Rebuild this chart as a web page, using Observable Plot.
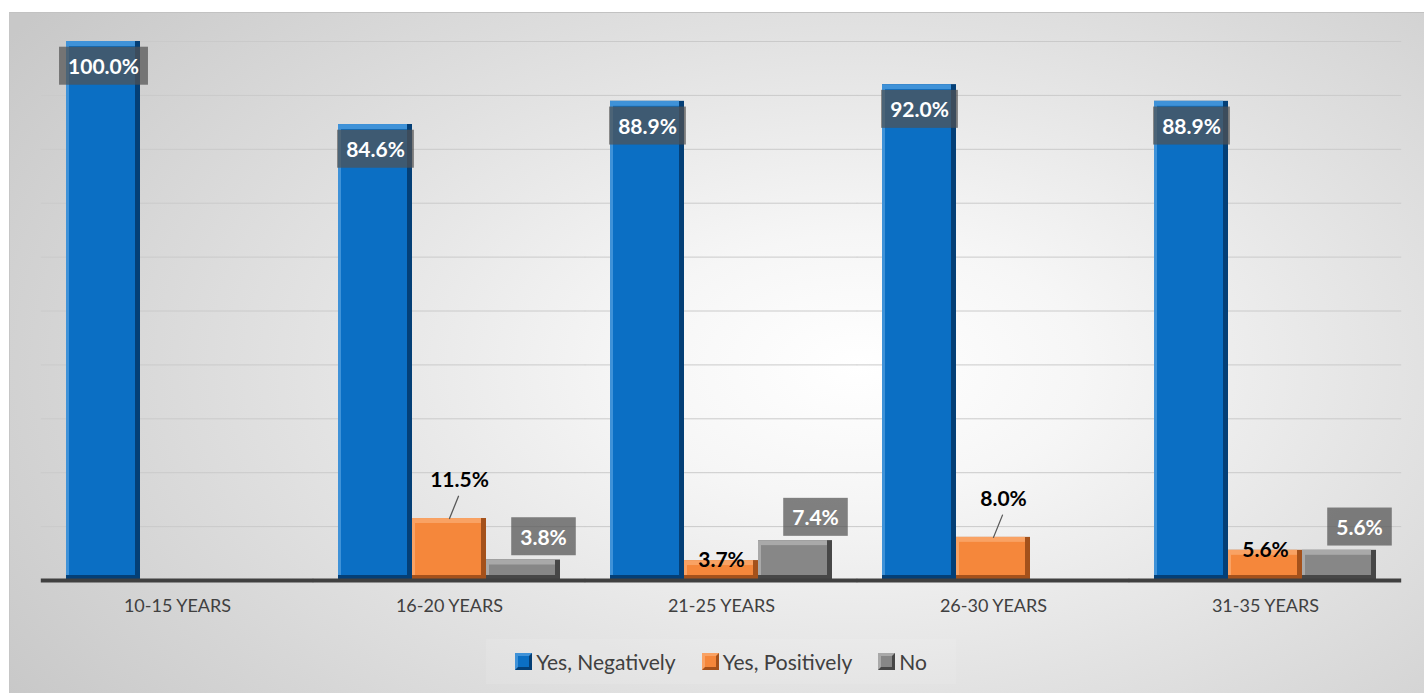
<!DOCTYPE html>
<html><head><meta charset="utf-8">
<script src="https://cdn.jsdelivr.net/npm/d3@7"></script>
<script src="https://cdn.jsdelivr.net/npm/@observablehq/plot@0.6"></script>
<style>
html,body{margin:0;padding:0;background:#fff;}
body{width:1424px;height:693px;position:relative;overflow:hidden;font-family:Lato,"Noto Sans",sans-serif;}
#bg{position:absolute;left:9px;top:12px;width:1415px;height:681px;box-sizing:border-box;
 border-top:1px solid #c2c2c2;border-left:1px solid #c6c6c6;
 background:radial-gradient(ellipse 72% 88% at 60% 52%, #ffffff 0%, #f6f6f6 22%, #e2e2e2 55%, #c8c8c8 100%);}
#chart{position:absolute;left:0;top:0;}
#legend{position:absolute;left:486px;top:639px;width:470px;height:45px;display:flex;align-items:center;justify-content:center;gap:26px;
 font-size:21px;color:#404040;background:rgba(255,255,255,0.1);}
.item{display:flex;align-items:center;gap:4px;}
.sw{width:17px;height:17px;box-sizing:border-box;border:3px solid;}
</style>
</head><body>
<div id="bg"></div>
<div id="chart"></div>
<div id="legend"></div>
<script>
const categories = ["10-15 YEARS", "16-20 YEARS", "21-25 YEARS", "26-30 YEARS", "31-35 YEARS"];
const series = ["Yes, Negatively", "Yes, Positively", "No"];
const negatively = [100.0, 84.6, 88.9, 92.0, 88.9];
const positively = [null, 11.5, 3.7, 8.0, 5.6];
const no = [null, 3.8, 7.4, null, 5.6];
const gridTicks = [10, 20, 30, 40, 50, 60, 70, 80, 90, 100];

const palette = {
  "Yes, Negatively": {face: "#0b6fc4", light: "#3f92d8", dark: "#043f76"},
  "Yes, Positively": {face: "#f5873b", light: "#f9a264", dark: "#a4511b"},
  "No": {face: "#878787", light: "#a9a9a9", dark: "#474747"}
};

const valuesBySeries = [negatively, positively, no];
const rows = categories.flatMap((c, i) =>
  series.map((s, j) => ({category: c, series: s, value: valuesBySeries[j][i]}))
    .filter(d => d.value != null));
const bySeries = s => rows.filter(d => d.series === s);
const fmt = d => d.value.toFixed(1) + "%";

const common = {fx: "category", x: "series", y: "value"};
const barLayers = series.flatMap(s => {
  const data = bySeries(s), p = palette[s];
  return [
    Plot.barY(data, {...common, fill: p.dark}),
    Plot.barY(data, {...common, fill: p.light, insetRight: 5, insetBottom: 5}),
    Plot.barY(data, {...common, fill: p.face, insetTop: 5, insetLeft: 3, insetRight: 5, insetBottom: 5})
  ];
});

const posData = bySeries("Yes, Positively");
const posBig = posData.filter(d => d.value >= 8);
const posSmall = posData.filter(d => d.value < 8);

const plot = Plot.plot({
  width: 1424,
  height: 693,
  marginLeft: 39,
  marginRight: 21,
  marginTop: 41,
  marginBottom: 113,
  style: {background: "transparent", fontFamily: "Lato, 'Noto Sans', sans-serif", overflow: "visible"},
  fx: {domain: categories, paddingInner: 0.175, paddingOuter: 0.0875, label: null},
  x: {domain: series, padding: 0, axis: null},
  y: {domain: [0, 100], axis: null},
  marks: [
    Plot.ruleY(gridTicks, {stroke: "#cacaca", strokeWidth: 1, insetLeft: -24.2, insetRight: -24.2}),
    ...barLayers,
    Plot.ruleY([0], {stroke: "#404040", strokeWidth: 4, insetLeft: -24.2, insetRight: -24.2}),
    Plot.axisFx({anchor: "bottom", tickSize: 0, tickPadding: 19, fontSize: 18, color: "#404040", label: null}),
    Plot.text(bySeries("Yes, Negatively"), {...common, text: fmt, dy: 26, fill: "white", fontWeight: 700, fontSize: 21, ariaLabel: () => "boxlab"}),
    Plot.text(bySeries("No"), {...common, text: fmt, dy: -22, dx: 20, fill: "white", fontWeight: 700, fontSize: 21, ariaLabel: () => "boxlab"}),
    Plot.vector(posBig, {...common, length: 24, rotate: 22, anchor: "start", stroke: "#595959", strokeWidth: 1.3,
      shape: {draw(ctx, l) { ctx.moveTo(0, 0); ctx.lineTo(0, -l); }}}),
    Plot.text(posBig, {...common, text: fmt, dy: -38, dx: 10, fill: "#000", fontWeight: 700, fontSize: 21}),
    Plot.text(posSmall, {...common, text: fmt, dy: 0, fill: "#000", fontWeight: 700, fontSize: 21})
  ]
});
document.getElementById("chart").appendChild(plot);

// label boxes behind white labels
const labelTexts = new Set();
plot.querySelectorAll('text[aria-label="boxlab"]').forEach(t => labelTexts.add(t));
plot.querySelectorAll('g[fill="white"] text').forEach(t => labelTexts.add(t));
labelTexts.forEach(t => {
  const b = t.getBBox();
  const padX = 9, padY = 6.5;
  const r = document.createElementNS("http://www.w3.org/2000/svg", "rect");
  r.setAttribute("x", b.x - padX);
  r.setAttribute("y", b.y - padY);
  r.setAttribute("width", b.width + 2 * padX);
  r.setAttribute("height", b.height + 2 * padY);
  r.setAttribute("fill", "rgba(82,82,82,0.72)");
  const tr = t.getAttribute("transform");
  if (tr) r.setAttribute("transform", tr);
  t.parentNode.insertBefore(r, t);
});

// legend
const legend = document.getElementById("legend");
series.forEach(s => {
  const p = palette[s];
  const item = document.createElement("div");
  item.className = "item";
  const sw = document.createElement("span");
  sw.className = "sw";
  sw.style.background = p.face;
  sw.style.borderColor = `${p.light} ${p.dark} ${p.dark} ${p.light}`;
  const lab = document.createElement("span");
  lab.textContent = s;
  item.appendChild(sw); item.appendChild(lab);
  legend.appendChild(item);
});
</script>
</body></html>
